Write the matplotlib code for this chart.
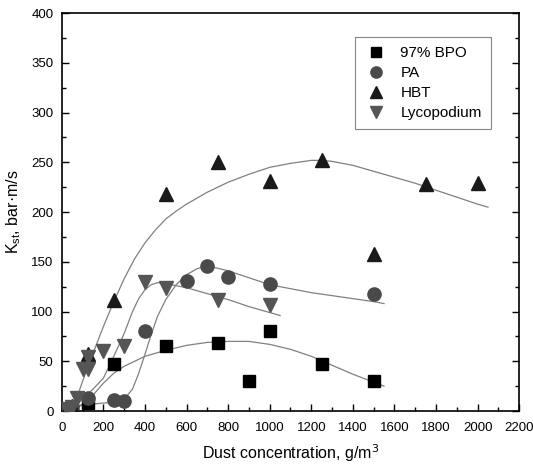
import matplotlib
matplotlib.use("Agg")
import matplotlib.pyplot as plt
from matplotlib.ticker import MultipleLocator

plt.rcParams['font.family'] = ['Liberation Sans', 'DejaVu Sans']

# measured points
bpo_x = [25, 50, 125, 250, 500, 750, 900, 1000, 1250, 1500]
bpo_y = [2, 4, 8, 47, 65, 68, 30, 80, 47, 30]

pa_x = [25, 50, 125, 250, 300, 400, 600, 700, 800, 1000, 1500]
pa_y = [2, 4, 13, 11, 10, 80, 131, 146, 135, 128, 118]

hbt_x = [25, 50, 125, 250, 500, 750, 1000, 1250, 1500, 1750, 2000]
hbt_y = [2, 5, 57, 112, 218, 250, 231, 252, 158, 228, 229]

lyc_x = [25, 50, 75, 100, 125, 125, 200, 300, 400, 500, 750, 1000]
lyc_y = [2, 4, 13, 42, 42, 54, 60, 65, 130, 124, 112, 107]

# fitted curves
bpo_fx = [30, 100, 150, 200, 250, 300, 400, 500, 600, 700, 800, 900, 1000, 1100, 1200, 1300, 1400, 1500, 1550]
bpo_fy = [0, 7, 16, 28, 38, 45, 55, 61, 66, 69, 70, 70, 67, 62, 55, 46, 37, 29, 25]

pa_fx = [30, 100, 200, 260, 300, 340, 370, 400, 430, 460, 500, 550, 600, 650, 700, 800, 900, 1000, 1100, 1200, 1300, 1400, 1500, 1550]
pa_fy = [0, 6, 8, 9, 12, 22, 38, 57, 77, 95, 112, 127, 137, 143, 146, 141, 134, 127, 123, 119, 116, 113, 110, 108]

hbt_fx = [50, 100, 150, 200, 250, 300, 350, 400, 450, 500, 550, 600, 700, 800, 900, 1000, 1100, 1200, 1250, 1300, 1400, 1500, 1600, 1700, 1800, 1900, 2000, 2050]
hbt_fy = [0, 30, 58, 85, 110, 133, 153, 169, 182, 193, 201, 208, 220, 230, 238, 245, 249, 252, 252, 251, 247, 241, 235, 229, 222, 215, 208, 205]

lyc_fx = [40, 100, 150, 200, 250, 300, 340, 370, 400, 430, 460, 500, 600, 700, 800, 900, 1000, 1050]
lyc_fy = [0, 12, 22, 33, 55, 78, 100, 113, 122, 127, 129, 128, 124, 118, 112, 105, 99, 96]

fig = plt.figure(figsize=(5.33, 4.70), dpi=100)
ax = fig.add_axes([0.116, 0.1255, 0.858, 0.8465])

lc = '#808080'
for fx, fy in [(bpo_fx, bpo_fy), (pa_fx, pa_fy), (hbt_fx, hbt_fy), (lyc_fx, lyc_fy)]:
    ax.plot(fx, fy, color=lc, lw=0.9, zorder=1)

ax.plot(bpo_x, bpo_y, 's', color='black', ms=8.5, ls='none', label='97% BPO', zorder=3)
ax.plot(pa_x, pa_y, 'o', color='#4a4a4a', ms=9.5, ls='none', label='PA', zorder=3)
ax.plot(hbt_x, hbt_y, '^', color='#1a1a1a', ms=10, ls='none', label='HBT', zorder=3)
ax.plot(lyc_x, lyc_y, 'v', color='#555555', ms=10, ls='none', label='Lycopodium', zorder=3)

ax.set_xlim(0, 2200)
ax.set_ylim(0, 400)
ax.xaxis.set_major_locator(MultipleLocator(200))
ax.xaxis.set_minor_locator(MultipleLocator(100))
ax.yaxis.set_major_locator(MultipleLocator(50))
ax.yaxis.set_minor_locator(MultipleLocator(25))
ax.tick_params(which='both', direction='in', right=True, labelsize=9.5, width=1)
ax.tick_params(which='major', length=5)
ax.tick_params(which='minor', length=3)
ax.tick_params(axis='x', which='major', pad=8)
ax.tick_params(axis='y', which='major', pad=6)
for s in ax.spines.values():
    s.set_linewidth(1.2)

ax.set_xlabel('Dust concentration, g/m$^3$', fontsize=11.5, labelpad=6)
ax.set_ylabel('K$_\\mathregular{st}$, bar·m/s', fontsize=11.5, labelpad=6)

leg = ax.legend(loc='upper right', bbox_to_anchor=(0.955, 0.96), fontsize=11,
                fancybox=False, edgecolor='#666666', handletextpad=0.8,
                labelspacing=0.4, borderpad=0.6, handlelength=1.6, markerscale=0.85)
leg.get_frame().set_linewidth(0.8)

fig.savefig('out.png', dpi=100)
